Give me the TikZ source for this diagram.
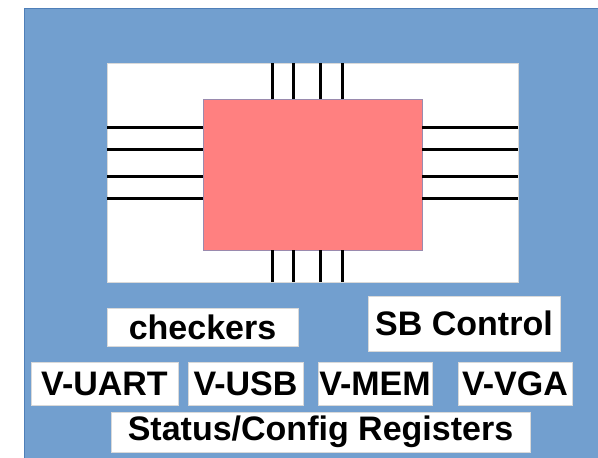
\documentclass[tikz,border=0pt]{standalone}
\usepackage{fontspec}
\setmainfont{Liberation Sans}
\begin{document}
\begin{tikzpicture}[x=1pt, y=-1pt,
    label box/.style={draw=black!15, fill=white, line width=.6pt, inner sep=0pt,
      font=\fontsize{34}{36}\selectfont\bfseries},
    pin/.style={line width=3pt, line cap=butt}]
  % Board with chip and wires
  \definecolor{slate}{HTML}{729FCF}
  \definecolor{slateedge}{HTML}{4F7FB8}
  \definecolor{chipred}{HTML}{FF8080}
  \definecolor{chipedge}{HTML}{9A8AAE}
  \useasboundingbox (0,0) rectangle (598,458);
  \filldraw[draw=slateedge, line width=.8pt, fill=slate] (24,8) rectangle (600,460);

  \node[draw=black!15, fill=white, line width=.6pt, minimum width=411pt, minimum height=219pt, inner sep=0pt] (board) at (312.5,172.5) {};
  \node[draw=chipedge, fill=chipred, line width=.8pt, minimum width=219pt, minimum height=151pt, inner sep=0pt] (chip) at (312.5,174.5) {};

  \foreach \x in {272,293,320,342} {
    \draw[pin] (\x,0 |- chip.north) -- (\x,0 |- board.north);
    \draw[pin] (\x,0 |- chip.south) -- (\x,0 |- board.south);
  }
  \foreach \y in {127,149,176,198} {
    \draw[pin] (chip.west |- 0,\y) -- (board.west |- 0,\y);
    \draw[pin] (chip.east |- 0,\y) -- (board.east |- 0,\y);
  }

  \node[label box, minimum width=191pt, minimum height=38pt] (checkers) at (202.5,327) {checkers};
  \node[label box, minimum width=192pt, minimum height=55pt] (sbctrl) at (464,323.5) {SB Control};

  \node[label box, minimum width=147pt, minimum height=43pt] (vuart) at (104.5,383.5) {V-UART};
  \node[label box, minimum width=115pt, minimum height=43pt] (vusb) at (245.5,383.5) {V-USB};
  \node[label box, minimum width=114pt, minimum height=43pt] (vmem) at (375,383.5) {V-MEM};
  \node[label box, minimum width=114pt, minimum height=43pt] (vvga) at (515,383.5) {V-VGA};

  \node[label box, minimum width=419pt, minimum height=40pt] (regs) at (320.5,432) {Status/Config Registers};
\end{tikzpicture}
\end{document}
